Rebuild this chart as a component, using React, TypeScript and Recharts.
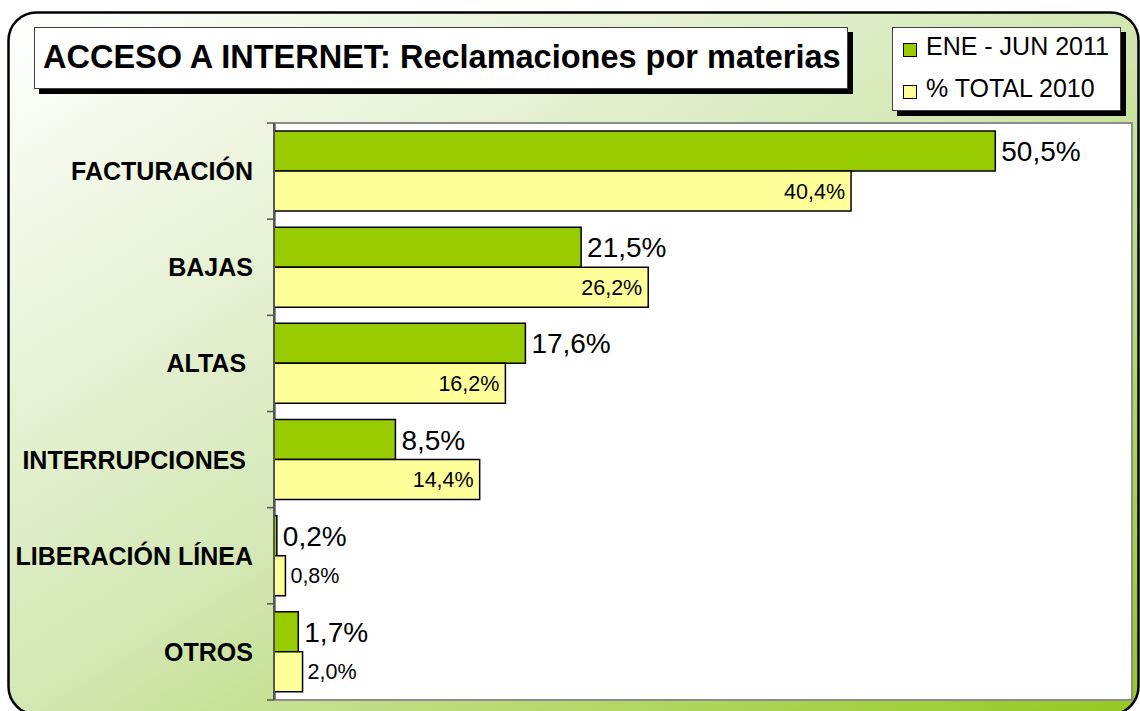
import React from 'react';
import { BarChart, Bar, XAxis, YAxis, LabelList } from 'recharts';

const categories = ['FACTURACIÓN', 'BAJAS', 'ALTAS ', 'INTERRUPCIONES ', 'LIBERACIÓN LÍNEA', 'OTROS'];
const eneJun2011 = [50.5, 21.5, 17.6, 8.5, 0.2, 1.7];
const total2010 = [40.4, 26.2, 16.2, 14.4, 0.8, 2.0];
const seriesNames = ['ENE - JUN 2011', '% TOTAL 2010'];
const seriesColors = ['#99CC00', '#FFFF99'];
const xTicks = [0, 10, 20, 30, 40, 50, 60];

const data = categories.map((name, i) => ({ name, ene: eneJun2011[i], total: total2010[i] }));

const W = 1140;
const H = 711;
const PLOT_LEFT = 274;
const PLOT_TOP = 123;
const PLOT_RIGHT = 9;
const PLOT_BOTTOM = 11;
const PLOT_H = H - PLOT_TOP - PLOT_BOTTOM;
const BAND = PLOT_H / categories.length;
const FONT = '"Liberation Sans", Arial, sans-serif';

const fmt = (v: number) => v.toFixed(1).replace('.', ',') + '%';
const textWidth = (s: string, size: number) =>
  s.split('').reduce((w, c) => w + (c === ',' ? 0.278 : c === '%' ? 0.889 : 0.556), 0) * size;

const CategoryTick = (props: any) => {
  const { y, payload, index } = props;
  const top = y - BAND / 2;
  return (
    <g>
      <line x1={PLOT_LEFT - 7} x2={PLOT_LEFT} y1={top} y2={top} stroke="#555" strokeWidth={1.5} />
      {index === categories.length - 1 && (
        <line x1={PLOT_LEFT - 7} x2={PLOT_LEFT} y1={y + BAND / 2} y2={y + BAND / 2} stroke="#555" strokeWidth={1.5} />
      )}
      <text
        x={253}
        y={y}
        dy={9}
        textAnchor="end"
        fontFamily={FONT}
        fontWeight="bold"
        fontSize={25}
        fill="#000"
        style={{ whiteSpace: 'pre' }}
      >
        {payload.value}
      </text>
    </g>
  );
};

const GreenLabel = (props: any) => {
  const { x, y, width, height, value } = props;
  return (
    <text x={x + width + 6} y={y + height / 2} dy={10} fontFamily={FONT} fontSize={28} fill="#000">
      {fmt(value)}
    </text>
  );
};

const YellowLabel = (props: any) => {
  const { x, y, width, height, value } = props;
  const s = fmt(value);
  const inside = width > textWidth(s, 21.5) + 12;
  return (
    <text
      x={inside ? x + width - 6 : x + width + 5}
      y={y + height / 2}
      dy={7.5}
      textAnchor={inside ? 'end' : 'start'}
      fontFamily={FONT}
      fontSize={21.5}
      fill="#000"
    >
      {s}
    </text>
  );
};

const Frame = () => (
  <svg width={W} height={H} style={{ position: 'absolute', left: 0, top: 0 }}>
    <defs>
      <linearGradient id="bg" x1="0" y1="0" x2="1" y2="1">
        <stop offset="0%" stopColor="#ffffff" />
        <stop offset="50%" stopColor="#d3e7b3" />
        <stop offset="100%" stopColor="#94c820" />
      </linearGradient>
    </defs>
    <rect x={8.5} y={12.5} width={1130} height={702} rx={28} ry={28} fill="url(#bg)" stroke="#000" strokeWidth={2.5} />
    {/* title */}
    <rect x={39} y={32} width={814} height={62} fill="#000" />
    <rect x={34.5} y={27.5} width={813} height={61} fill="#fff" stroke="#404040" strokeWidth={1} />
    <text x={43} y={68} fontFamily={FONT} fontWeight="bold" fontSize={32.5} fill="#000">
      ACCESO A INTERNET: Reclamaciones por materias
    </text>
    {/* legend */}
    <rect x={897} y={32} width={229} height={84} fill="#000" />
    <rect x={892.5} y={27.5} width={228} height={83} fill="#fff" stroke="#404040" strokeWidth={1} />
    {seriesNames.map((n, i) => (
      <g key={n}>
        <rect x={903.5} y={43.5 + i * 42} width={13} height={13} fill={seriesColors[i]} stroke="#000" strokeWidth={1} />
        <text x={926} y={55 + i * 42} fontFamily={FONT} fontSize={25} fill="#000">
          {n}
        </text>
      </g>
    ))}
  </svg>
);

export default function App() {
  return (
    <div style={{ position: 'absolute', left: 0, top: 0, width: W, height: H, overflow: 'hidden' }}>
      <Frame />
      <div
        style={{
          position: 'absolute',
          left: PLOT_LEFT,
          top: PLOT_TOP - 1,
          width: W - PLOT_LEFT - PLOT_RIGHT + 2,
          height: PLOT_H + 2,
          boxSizing: 'border-box',
          background: '#fff',
          border: '2px solid #8c8c8c',
        }}
      />
      <div style={{ position: 'absolute', left: 0, top: 0 }}>
        <BarChart
          width={W}
          height={H}
          data={data}
          layout="vertical"
          margin={{ top: PLOT_TOP, right: PLOT_RIGHT, bottom: PLOT_BOTTOM, left: 0 }}
          barCategoryGap={8}
          barGap={0}
        >
          <XAxis type="number" domain={[0, 60]} ticks={xTicks} hide />
          <YAxis
            type="category"
            dataKey="name"
            width={PLOT_LEFT}
            axisLine={{ stroke: '#555', strokeWidth: 2 }}
            tickLine={false}
            tick={<CategoryTick />}
            interval={0}
          />
          <Bar dataKey="ene" name={seriesNames[0]} fill={seriesColors[0]} stroke="#000" strokeWidth={1.5} isAnimationActive={false}>
            <LabelList dataKey="ene" content={<GreenLabel />} />
          </Bar>
          <Bar dataKey="total" name={seriesNames[1]} fill={seriesColors[1]} stroke="#000" strokeWidth={1.5} isAnimationActive={false}>
            <LabelList dataKey="total" content={<YellowLabel />} />
          </Bar>
        </BarChart>
      </div>
    </div>
  );
}
